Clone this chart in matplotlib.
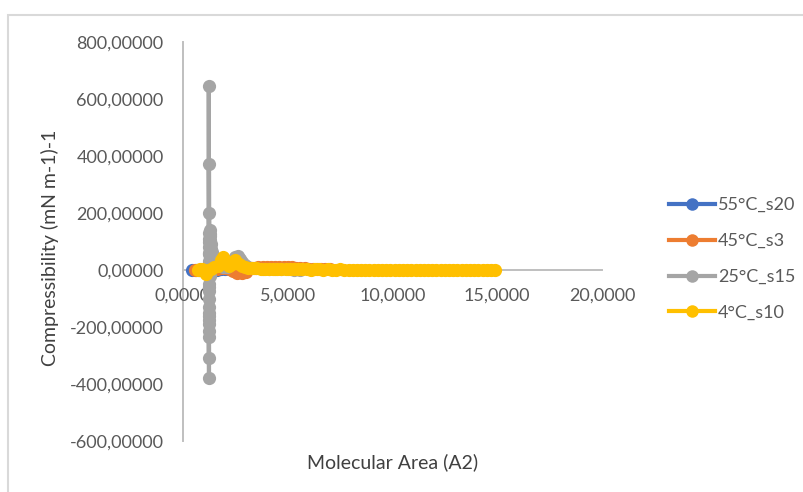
import matplotlib
matplotlib.use("Agg")
import matplotlib.pyplot as plt
from matplotlib.ticker import FuncFormatter, MultipleLocator
from matplotlib.patches import Rectangle
from matplotlib.lines import Line2D

plt.rcParams['font.family'] = ['Lato', 'DejaVu Sans']

# ---- data ----
labels = ["55°C_s20", "45°C_s3", "25°C_s15", "4°C_s10"]
colors = ["#4472C4", "#ED7D31", "#A5A5A5", "#FFC000"]

blue_x = [3.0, 2.8, 2.6, 2.4, 2.2, 2.0, 1.8, 1.6, 1.4, 1.2, 1.05, 0.9, 0.75,
          0.6, 0.43]
blue_y = [1, 1, 1, 2, 2, 2, 2, 1, 1, 1, 0, 0, 0, 0, 0]

orange_x = [7.0, 6.8, 6.6, 6.4, 6.2, 6.0, 5.8, 5.6, 5.4, 5.2, 5.0, 4.8, 4.6,
            4.4, 4.2, 4.0, 3.8, 3.6, 3.4, 3.2, 3.0, 2.8, 2.6, 2.4, 2.2, 2.0,
            1.8, 1.6, 1.4, 1.2, 1.0, 0.8, 0.57]
orange_y = [3, 3, 4, 4, 5, 5, 6, 7, 8, 9, 10, 10, 11, 12, 12, 11, 10, 9, 8, 6,
            -8, -12, -10, -4, 5, 8, 6, 4, 2, 1, 0, 0, 0]

gray_x = [5.6, 5.3, 5.0, 4.7, 4.4, 4.1, 3.8, 3.5, 3.3, 3.1, 2.95, 2.8, 2.7,
          2.62, 2.5, 2.4, 2.3, 2.2, 2.1, 2.0, 1.9, 1.8, 1.7, 1.6, 1.5, 1.45,
          1.4, 1.36, 1.33, 1.31, 1.30, 1.29, 1.28, 1.28, 1.27, 1.27, 1.26,
          1.26, 1.25, 1.26, 1.25, 1.25, 1.24, 1.25, 1.24, 1.25, 1.24, 1.25,
          1.24, 1.23, 1.24, 1.24, 1.23, 1.24, 1.23, 1.24, 1.23, 1.22, 1.23,
          1.22, 1.22]
gray_y = [1, 1, 2, 2, 3, 3, 4, 6, 8, 12, 18, 28, 40, 50, 45, 35, 25, 18, 12,
          10, 12, 15, 20, 28, 38, 50, 62, 75, 90, 105, 85, 118, 128, 140, 95,
          -20, -50, 60, -75, 110, -100, -130, 200, -150, 130, -175, 372, -190,
          80, -215, 100, -235, 55, -309, 645, -379, 30, -160, 15, -60, 5]

yellow_x = [14.9, 14.7, 14.5, 14.3, 14.1, 13.9, 13.7, 13.5, 13.3, 13.1, 12.9,
            12.7, 12.5, 12.3, 12.1, 11.9, 11.7, 11.5, 11.3, 11.1, 10.9, 10.7,
            10.5, 10.3, 10.1, 9.9, 9.7, 9.5, 9.3, 9.1, 8.9, 8.7, 8.5, 8.3, 8.1,
            7.9, 7.7, 7.5, 7.3, 7.1, 6.9, 6.7, 6.5, 6.3, 6.1, 5.9, 5.7, 5.5,
            5.3, 5.1, 4.9, 4.7, 4.5, 4.3, 4.1, 3.9, 3.7, 3.5, 3.3, 3.1, 2.95,
            2.8, 2.65, 2.5, 2.35, 2.2, 2.05, 1.9, 1.8, 1.65, 1.5, 1.35, 1.2,
            1.1, 1.0, 0.9, 0.8, 0.72]
yellow_y = [0, 1, 0, -1, 0, 1, 0, 0, -1, 0, 1, 0, 0, 1, -1, 0, 0, 1, 0, 0,
            0, 1, 1, 0, -1, 0, 1, 0, 0, 1, 1, 0, 1, 1, 0, 1, 1, 2, 1, 1,
            2, 1, 2, 2, 1, 2, 3, 2, 3, 3, 3, 4, 4, 3, 4, 5, 5, 6, 6, 7,
            10, 15, 22, 35, 22, 15, 30, 45, 35, 15, 10, 5, 0, -15, -5, 3, 2, 0]

series_x = [blue_x, orange_x, gray_x, yellow_x]
series_y = [blue_y, orange_y, gray_y, yellow_y]

# ---- figure ----
W, H = 804, 492
fig = plt.figure(figsize=(W / 100, H / 100), dpi=100)
ax = fig.add_axes([183 / W, 1 - 441 / H, (602 - 183) / W, (441 - 42) / H])

MS = 9.5
for xs, ys, c, lab in zip(series_x, series_y, colors, labels):
    ax.plot(xs, ys, color=c, lw=3.0, marker='o', markersize=MS,
            markeredgewidth=0, label=lab, clip_on=False)

ax.set_xlim(0, 20)
ax.set_ylim(-600, 800)
ax.xaxis.set_major_locator(MultipleLocator(5))
ax.yaxis.set_major_locator(MultipleLocator(200))
ax.xaxis.set_major_formatter(FuncFormatter(lambda v, p: f"{v:.4f}".replace('.', ',')))
ax.yaxis.set_major_formatter(FuncFormatter(lambda v, p: f"{v:.5f}".replace('.', ',')))

for s in ['top', 'right']:
    ax.spines[s].set_visible(False)
ax.spines['bottom'].set_position(('data', 0))
ax.spines['left'].set_position(('data', 0))
for s in ['bottom', 'left']:
    ax.spines[s].set_color('#BFBFBF')
    ax.spines[s].set_linewidth(1.4)
    ax.spines[s].set_zorder(0.5)

ax.tick_params(axis='both', length=0, labelsize=13, labelcolor='#595959')
ax.tick_params(axis='x', pad=13)
ax.tick_params(axis='y', pad=14)

fig.text(50 / W, 1 - 248 / H, "Compressibility (mN m-1)-1", rotation=90,
         ha='center', va='center', fontsize=14, color='#404040')
fig.text(393 / W, 1 - 462 / H, "Molecular Area (A2)", ha='center', va='center',
         fontsize=14, color='#404040')

handles = [Line2D([], [], color=c, lw=3.0, marker='o', markersize=MS - 0.5,
                  markeredgewidth=0) for c in colors]
leg = fig.legend(handles, labels, loc='center left',
                 bbox_to_anchor=(669 / W, 1 - 259 / H), frameon=False,
                 fontsize=13, labelspacing=1.1, handlelength=2.55,
                 handletextpad=0.15, borderpad=0, borderaxespad=0)
for t in leg.get_texts():
    t.set_color('#595959')

rect = Rectangle((8 / W, -0.1), 1.2, (H - 15) / H + 0.1, transform=fig.transFigure,
                 fill=False, edgecolor='#D9D9D9', lw=1.5, clip_on=False)
fig.patches.append(rect)

fig.savefig("out.png", dpi=100)
